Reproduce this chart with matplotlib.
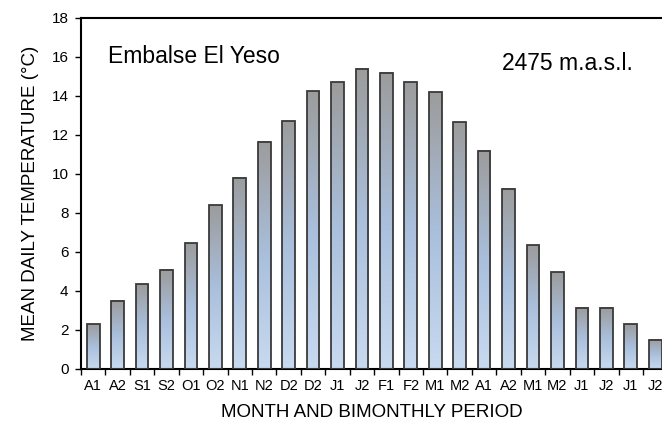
import numpy as np
import matplotlib.pyplot as plt
from matplotlib.colors import LinearSegmentedColormap

plt.rcParams['font.family'] = ['Liberation Sans', 'DejaVu Sans']

periods = ['A1', 'A2', 'S1', 'S2', 'O1', 'O2', 'N1', 'N2', 'D2', 'D2', 'J1', 'J2',
           'F1', 'F2', 'M1', 'M2', 'A1', 'A2', 'M1', 'M2', 'J1', 'J2', 'J1', 'J2']
temps = [2.3, 3.5, 4.35, 5.1, 6.45, 8.4, 9.8, 11.65, 12.7, 14.25, 14.7, 15.4,
         15.2, 14.7, 14.2, 12.65, 11.2, 9.25, 6.35, 4.95, 3.15, 3.15, 2.3, 1.5]

fig = plt.figure(figsize=(6.62, 4.23), dpi=100)
ax = fig.add_axes([0.1224, 0.1277, 0.8776, 0.8298])

# gray at the top of each bar, pale blue at its base
cmap = LinearSegmentedColormap.from_list('bar', ['#c8daf0', '#a9bfdc', '#9c9c9c'])
grad = np.linspace(0, 1, 256).reshape(-1, 1)
w = 0.52
x = np.arange(len(temps))
for xi, h in zip(x, temps):
    ax.imshow(grad, extent=[xi - w / 2, xi + w / 2, 0, h], origin='lower',
              cmap=cmap, aspect='auto', zorder=2)
ax.bar(x, temps, width=w, facecolor='none', edgecolor='#3a3a3a', linewidth=1.3, zorder=3)

ax.set_yticks(np.arange(0, 19, 2))
ax.set_xticks(x)
ax.set_xticklabels(periods, fontsize=10.5)
ax.set_xticks(np.arange(-0.5, 23, 1), minor=True)
ax.set_xlim(-0.5, 23.28)
ax.set_ylim(0, 18)
ax.tick_params(axis='x', which='major', length=0, pad=7)
ax.tick_params(axis='x', which='minor', length=4, width=1, direction='out')
ax.tick_params(axis='y', length=4, width=1, direction='out', labelsize=11, pad=5)

for s in ['left', 'bottom', 'top']:
    ax.spines[s].set_linewidth(1.5)
ax.spines['right'].set_visible(False)

ax.set_ylabel('MEAN DAILY TEMPERATURE (°C)', fontsize=13.5, labelpad=9)
ax.set_xlabel('MONTH AND BIMONTHLY PERIOD', fontsize=13.5, labelpad=8)

ax.text(0.046, 0.89, 'Embalse El Yeso', transform=ax.transAxes, fontsize=16.5, va='center')
ax.text(0.725, 0.87, '2475 m.a.s.l.', transform=ax.transAxes, fontsize=16.5, va='center')

plt.savefig('out.png', dpi=100)
